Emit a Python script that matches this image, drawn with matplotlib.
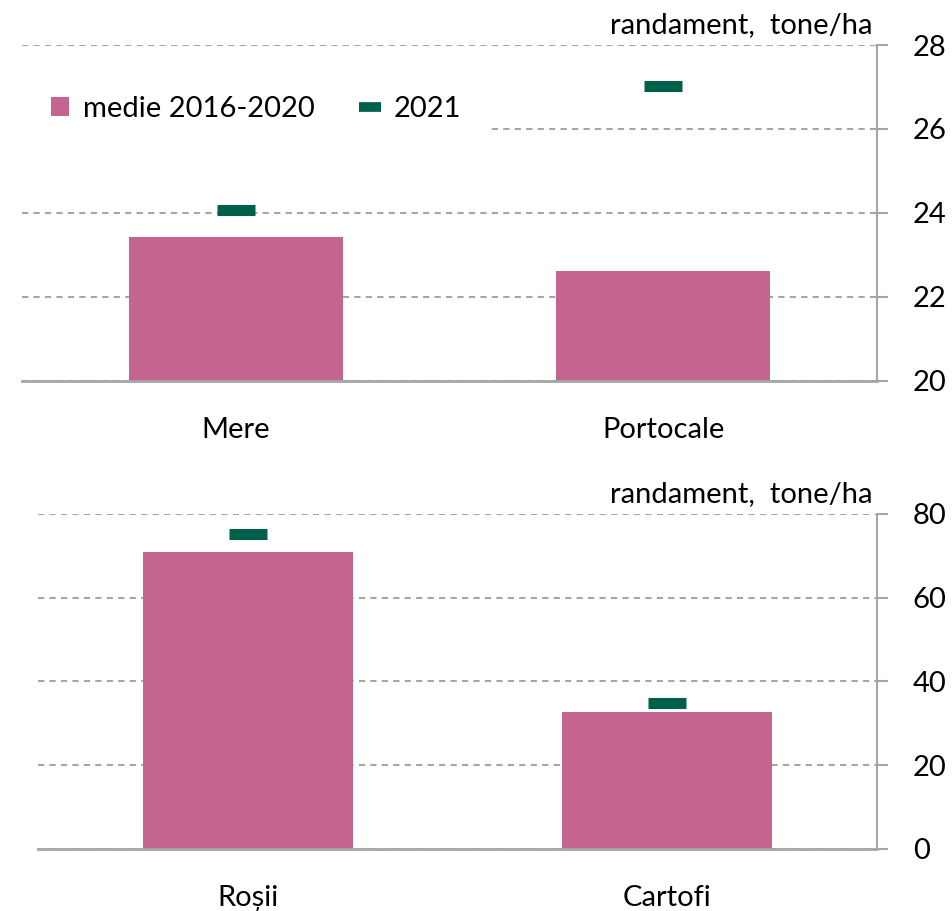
import matplotlib
matplotlib.use("Agg")
import matplotlib.pyplot as plt
from matplotlib.lines import Line2D
from matplotlib.patches import Patch

# date
fructe = ["Mere", "Portocale"]
fructe_medie = [23.43, 22.62]
fructe_2021 = [24.07, 27.02]

legume = ["Roșii", "Cartofi"]
legume_medie = [70.9, 32.7]
legume_2021 = [75.2, 34.8]

roz = "#C4658F"
verde = "#00604B"
gri = "#A6A6A6"

plt.rcParams["font.family"] = ["Lato", "DejaVu Sans"]
plt.rcParams["font.size"] = 21

fig = plt.figure(figsize=(9.52, 9.11), dpi=100)
ax1 = fig.add_axes([0.0231, 0.5818, 0.898, 0.3688])
ax2 = fig.add_axes([0.0399, 0.0681, 0.881, 0.3677])


def deseneaza(ax, cats, medie, an2021, ylim, ticks):
    x = range(len(cats))
    ax.bar(x, medie, width=0.5, color=roz, zorder=2)
    ax.plot(x, an2021, linestyle="none", marker="_", markersize=28,
            markeredgewidth=8, color=verde, zorder=3)
    ax.set_xlim(-0.5, len(cats) - 0.5)
    ax.set_ylim(*ylim)
    ax.set_yticks(ticks)
    ax.set_xticks(list(x))
    ax.set_xticklabels(cats)
    ax.yaxis.tick_right()
    ax.tick_params(axis="y", length=8, color=gri, width=1.5, pad=18)
    ax.tick_params(axis="x", length=0, pad=26)
    ax.grid(axis="y", color=gri, linestyle=(0, (3, 2.5)), linewidth=1.5, zorder=0)
    for s in ["top", "left"]:
        ax.spines[s].set_visible(False)
    ax.spines["right"].set_color(gri)
    ax.spines["right"].set_linewidth(1.5)
    ax.spines["bottom"].set_color(gri)
    ax.spines["bottom"].set_linewidth(2)
    ax.text(0.995, 1.02, "randament,  tone/ha", transform=ax.transAxes,
            ha="right", va="bottom")


deseneaza(ax1, fructe, fructe_medie, fructe_2021, (20, 28), [20, 22, 24, 26, 28])
deseneaza(ax2, legume, legume_medie, legume_2021, (0, 80), [0, 20, 40, 60, 80])

handles = [Patch(facecolor=roz, edgecolor="none"),
           Line2D([], [], linestyle="none", marker="_", markersize=16,
                  markeredgewidth=7, color=verde)]
leg = ax1.legend(handles, ["medie 2016-2020", "2021"], loc="center left",
                 bbox_to_anchor=(0.0, 0.81), ncol=2, frameon=True,
                 facecolor="white", edgecolor="none", framealpha=1,
                 handlelength=0.6, handleheight=0.6, handletextpad=0.5,
                 columnspacing=1.6, borderpad=1.0, borderaxespad=0.0)
leg.set_zorder(5)

fig.savefig("out.png", dpi=100)
